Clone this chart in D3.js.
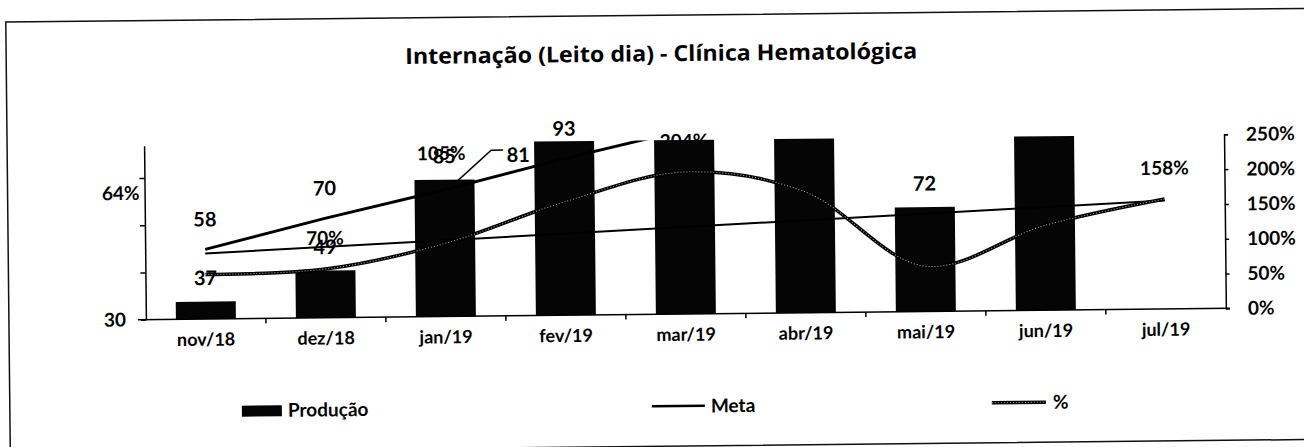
<!DOCTYPE html>
<html>
<head>
<meta charset="utf-8">
<script src="https://cdn.jsdelivr.net/npm/d3@7"></script>
<style>
  html, body { margin: 0; padding: 0; background: #fff; }
  svg text { font-family: Lato, "Open Sans", sans-serif; font-weight: bold; fill: #000; }
</style>
</head>
<body>
<svg id="chart" width="1304" height="447"></svg>
<script>
var months = ['nov/18', 'dez/18', 'jan/19', 'fev/19', 'mar/19', 'abr/19', 'mai/19', 'jun/19', 'jul/19'];
// bars hit the top of the left axis from fev on (clipped at 100)
var producao = [37, 49, 85, 100, 100, 100, 72, 100, null];
var producaoLabels = [37, 49, 85, null, null, null, 72, null, null];
// thick line on the left axis, runs off the top after fev
var meta = [58, 70, 81, 93, 104, null, null, null, null];
var pct = [64, 70, 105, 163, 204, 174, 65, 122, 158];
var pctLabelShown = [true, true, true, false, true, false, false, false, true];
var leftTicks = [30, 49, 68, 87];
var rightTicks = [0, 50, 100, 150, 200, 250];
var title = 'Internação (Leito dia) - Clínica Hematológica';

var svg = d3.select('#chart');
// the scan is a little tilted
var root = svg.append('g').attr('transform', 'rotate(-0.6,684,230)');

var plot = {left: 145, right: 1225, top: 140, bottom: 314};

var x = d3.scaleBand().domain(months).range([plot.left, plot.right])
    .paddingInner(0.5).paddingOuter(0.25);
var xb = d3.scaleBand().domain(months).range([plot.left, plot.right]);
var yL = d3.scaleLinear().domain([30, 100]).range([plot.bottom, plot.top]);
var yR = d3.scaleLinear().domain([0, 250]).range([plot.bottom, plot.top]);

function cx(i) { return x(months[i]) + x.bandwidth() / 2; }

root.append('defs').append('clipPath').attr('id', 'plotclip')
    .append('rect')
    .attr('x', plot.left).attr('y', plot.top)
    .attr('width', plot.right - plot.left).attr('height', plot.bottom - plot.top);

// frame
root.append('rect')
    .attr('x', 8).attr('y', 15).attr('width', 1330).attr('height', 431)
    .attr('fill', 'none').attr('stroke', '#111').attr('stroke-width', 1.5);

root.append('text')
    .attr('x', 663).attr('y', 61)
    .attr('text-anchor', 'middle')
    .attr('textLength', 512).attr('lengthAdjust', 'spacingAndGlyphs')
    .style('font-family', '"Open Sans", Lato, sans-serif')
    .style('font-size', '22px')
    .text(title);

// % labels go under the bars (the mar one is half hidden)
var pctMoves = {
    0: function(px, py) { return {x: plot.left - 5, y: py - 82, anchor: 'end'}; },
    2: function(px, py) { return {x: px - 3, y: py - 90, anchor: 'middle'}; }
};
root.append('g').selectAll('text')
    .data(pct.map(function(v, i) { return {v: v, i: i}; }).filter(function(d) { return pctLabelShown[d.i]; }))
    .enter().append('text')
    .each(function(d) {
        var px = cx(d.i), py = yR(d.v);
        var pos = pctMoves[d.i] ? pctMoves[d.i](px, py) : {x: px, y: py - 31, anchor: 'middle'};
        d3.select(this)
            .attr('x', pos.x).attr('y', pos.y).attr('dy', '0.35em')
            .attr('text-anchor', pos.anchor);
    })
    .style('font-size', '19px')
    .text(function(d) { return d.v + '%'; });

// bars
root.append('g').selectAll('rect')
    .data(producao.map(function(v, i) { return {v: v, i: i}; }).filter(function(d) { return d.v != null; }))
    .enter().append('rect')
    .attr('x', function(d) { return x(months[d.i]); })
    .attr('y', function(d) { return yL(d.v); })
    .attr('width', x.bandwidth())
    .attr('height', function(d) { return yL(30) - yL(d.v); })
    .attr('fill', '#050505');

// axes
var xAxis = root.append('g')
    .attr('transform', 'translate(0,' + plot.bottom + ')')
    .call(d3.axisBottom(xb).tickSize(0).tickPadding(14));
xAxis.select('.domain').remove();
xAxis.selectAll('text').style('font-size', '18px');

root.append('line')
    .attr('x1', plot.left - 8).attr('x2', plot.right + 4)
    .attr('y1', plot.bottom).attr('y2', plot.bottom)
    .attr('stroke', '#000').attr('stroke-width', 1.5);
root.append('g').selectAll('line')
    .data(months.slice(1))
    .enter().append('line')
    .attr('x1', function(d) { return xb(d); }).attr('x2', function(d) { return xb(d); })
    .attr('y1', plot.bottom).attr('y2', plot.bottom + 5)
    .attr('stroke', '#000').attr('stroke-width', 1.5);

var leftAxis = root.append('g')
    .attr('transform', 'translate(' + plot.left + ',0)')
    .call(d3.axisLeft(yL).tickValues(leftTicks).tickSizeInner(5).tickSizeOuter(0)
        .tickPadding(15)
        .tickFormat(function(d) { return d === 30 ? '30' : ''; }));
leftAxis.selectAll('text').style('font-size', '19px');
leftAxis.selectAll('path, line').attr('stroke', '#000').attr('stroke-width', 1.5);

var rightAxis = root.append('g')
    .attr('transform', 'translate(' + plot.right + ',0)')
    .call(d3.axisRight(yR).tickValues(rightTicks).tickSizeInner(4).tickSizeOuter(4)
        .tickPadding(18)
        .tickFormat(function(d) { return d + '%'; }));
rightAxis.selectAll('text').style('font-size', '19px');
rightAxis.selectAll('path, line').attr('stroke', '#000').attr('stroke-width', 1.5);

// lines
var lines = root.append('g').attr('clip-path', 'url(#plotclip)');

var metaLine = d3.line()
    .defined(function(d) { return d != null; })
    .x(function(d, i) { return cx(i); })
    .y(function(d) { return yL(d); });
lines.append('path')
    .attr('d', metaLine(meta))
    .attr('fill', 'none').attr('stroke', '#000').attr('stroke-width', 3);

// linear trend of the % series
var n = pct.length;
var mx = d3.mean(pct, function(d, i) { return i; });
var my = d3.mean(pct);
var slope = d3.sum(pct, function(d, i) { return (i - mx) * (d - my); }) /
    d3.sum(pct, function(d, i) { return (i - mx) * (i - mx); });
var trend = [0, n - 1].map(function(i) { return [cx(i), yR(my + slope * (i - mx))]; });
lines.append('path')
    .attr('d', d3.line()(trend))
    .attr('fill', 'none').attr('stroke', '#000').attr('stroke-width', 2);

var pctLine = d3.line()
    .x(function(d, i) { return cx(i); })
    .y(function(d) { return yR(d); })
    .curve(d3.curveCatmullRom.alpha(0.5));
lines.append('path')
    .attr('d', pctLine(pct))
    .attr('fill', 'none').attr('stroke', '#000').attr('stroke-width', 3.5);
lines.append('path')
    .attr('d', pctLine(pct))
    .attr('fill', 'none').attr('stroke', '#fff').attr('stroke-width', 1)
    .attr('stroke-dasharray', '1 2').attr('opacity', 0.7);

// meta labels
root.append('g').selectAll('text')
    .data(meta.map(function(v, i) { return {v: v, i: i}; })
        .filter(function(d) { return d.v != null && d.v <= 100; }))
    .enter().append('text')
    .attr('x', function(d) { return d.i === 2 ? cx(d.i) + 74 : cx(d.i); })
    .attr('y', function(d) { return d.i === 2 ? yL(d.v) - 34 : yL(d.v) - 30; })
    .attr('dy', '0.35em')
    .attr('text-anchor', 'middle')
    .style('font-size', '20px')
    .text(function(d) { return d.v; });

// leader line of the moved "81"
root.append('polyline')
    .attr('points', [[cx(2) + 59, yL(meta[2]) - 39], [cx(2) + 47, yL(meta[2]) - 39], [cx(2) + 10, yL(meta[2]) - 6]].join(' '))
    .attr('fill', 'none').attr('stroke', '#000').attr('stroke-width', 1.5);

// bar labels
root.append('g').selectAll('text')
    .data(producaoLabels.map(function(v, i) { return {v: v, i: i}; }).filter(function(d) { return d.v != null; }))
    .enter().append('text')
    .attr('x', function(d) { return cx(d.i); })
    .attr('y', function(d) { return yL(d.v) - 23.5; })
    .attr('dy', '0.35em')
    .attr('text-anchor', 'middle')
    .style('font-size', '20px')
    .text(function(d) { return d.v; });

// legend
var legend = root.append('g').attr('transform', 'translate(0,406)');
legend.append('rect').attr('x', 240).attr('y', -5).attr('width', 40).attr('height', 11).attr('fill', '#050505');
legend.append('text').attr('x', 286).attr('dy', '0.35em').style('font-size', '19px').text('Produção');
legend.append('line').attr('x1', 650).attr('x2', 703).attr('stroke', '#000').attr('stroke-width', 2.5);
legend.append('text').attr('x', 709).attr('dy', '0.35em').style('font-size', '19px').text('Meta');
legend.append('line').attr('x1', 990).attr('x2', 1044).attr('stroke', '#000').attr('stroke-width', 3.5);
legend.append('line').attr('x1', 990).attr('x2', 1044).attr('stroke', '#fff').attr('stroke-width', 1)
    .attr('stroke-dasharray', '1 2').attr('opacity', 0.7);
legend.append('text').attr('x', 1051).attr('dy', '0.35em').style('font-size', '19px').text('%');
</script>
</body>
</html>
